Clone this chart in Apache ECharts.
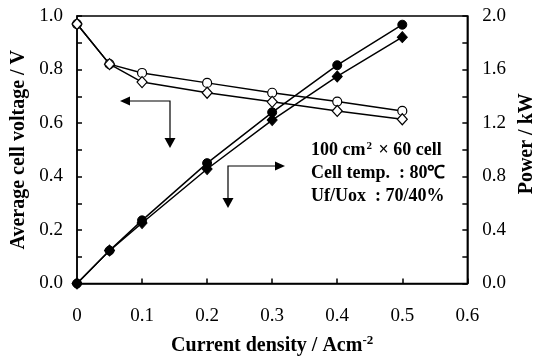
<!DOCTYPE html>
<html>
<head>
<meta charset="utf-8">
<script src="https://cdn.jsdelivr.net/npm/echarts@6/dist/echarts.min.js"></script>
<style>
  html, body { margin: 0; padding: 0; background: #fff; }
  #main { width: 545px; height: 361px; }
</style>
</head>
<body>
<div id="main"></div>
<script>
// current density, A/cm2
const currentDensity = [0, 0.05, 0.1, 0.2, 0.3, 0.4, 0.5];
// average cell voltage, V (left axis)
const voltageA = [0.97, 0.82, 0.787, 0.75, 0.713, 0.68, 0.645];
const voltageB = [0.97, 0.82, 0.753, 0.713, 0.679, 0.645, 0.614];
// power, kW (right axis)
const powerA = [0, 0.246, 0.472, 0.9, 1.28, 1.632, 1.935];
const powerB = [0, 0.246, 0.452, 0.856, 1.222, 1.548, 1.842];

const serif = 'Liberation Serif, Times New Roman, serif';
const pair = (xs, ys) => xs.map((x, i) => [x, ys[i]]);

const chart = echarts.init(document.getElementById('main'), null, { renderer: 'canvas' });

const axisLine = { show: true, lineStyle: { color: '#000', width: 1.5 } };
const tickLabel = { fontFamily: serif, fontSize: 19, color: '#000' };
const nameStyle = { fontFamily: serif, fontSize: 20, fontWeight: 'bold', color: '#000' };

const baseSeries = {
    type: 'line',
    symbolSize: 9,
    showSymbol: true,
    lineStyle: { color: '#000', width: 1.5 },
    animation: false,
    z: 3
};

const option = {
    animation: false,
    grid: {
        left: 77, right: 65, top: 16, bottom: 73,
        show: true, borderColor: '#000', borderWidth: 1.5
    },
    xAxis: {
        type: 'value',
        min: 0, max: 0.6, interval: 0.1,
        axisLine: axisLine,
        axisTick: { show: true, inside: true, length: 5, lineStyle: { color: '#000', width: 1.5 } },
        splitLine: { show: false },
        axisLabel: Object.assign({ margin: 23, formatter: v => (v === 0 ? '0' : v.toFixed(1)) }, tickLabel),
        name: 'Current density / Acm{sup|-2}',
        nameLocation: 'middle',
        nameGap: 51,
        nameTextStyle: Object.assign({
            rich: { sup: { fontFamily: serif, fontSize: 13, fontWeight: 'bold', verticalAlign: 'top', padding: [0, 0, 10, 0] } }
        }, nameStyle)
    },
    yAxis: [
        {
            type: 'value',
            min: 0, max: 1, interval: 0.2,
            axisLine: axisLine,
            axisTick: { show: true, inside: true, length: 5, lineStyle: { color: '#000', width: 1.5 } },
            minorTick: { show: true, splitNumber: 2, length: 5, lineStyle: { color: '#000', width: 1.5 } },
            splitLine: { show: false },
            axisLabel: Object.assign({ margin: 14, formatter: v => v.toFixed(1) }, tickLabel),
            name: 'Average cell voltage / V',
            nameLocation: 'middle',
            nameGap: 45,
            nameTextStyle: nameStyle
        },
        {
            type: 'value',
            position: 'right',
            min: 0, max: 2, interval: 0.4,
            axisLine: axisLine,
            axisTick: { show: true, inside: true, length: 5, lineStyle: { color: '#000', width: 1.5 } },
            minorTick: { show: true, splitNumber: 2, length: 5, lineStyle: { color: '#000', width: 1.5 } },
            splitLine: { show: false },
            axisLabel: Object.assign({ margin: 15, formatter: v => v.toFixed(1) }, tickLabel),
            name: 'Power / kW',
            nameLocation: 'middle',
            nameGap: 38,
            nameRotate: 90,
            nameTextStyle: Object.assign({ padding: [0, 0, 0, 12] }, nameStyle)
        }
    ],
    series: [
        Object.assign({}, baseSeries, {
            name: 'V (circle)', yAxisIndex: 0, data: pair(currentDensity, voltageA),
            symbol: 'circle',
            itemStyle: { color: '#fff', borderColor: '#000', borderWidth: 1.2 }
        }),
        Object.assign({}, baseSeries, {
            name: 'V (diamond)', yAxisIndex: 0, data: pair(currentDensity, voltageB),
            symbol: 'diamond', symbolSize: [10, 11],
            itemStyle: { color: '#fff', borderColor: '#000', borderWidth: 1.2 }
        }),
        Object.assign({}, baseSeries, {
            name: 'P (circle)', yAxisIndex: 1, data: pair(currentDensity, powerA),
            symbol: 'circle',
            itemStyle: { color: '#000', borderColor: '#000', borderWidth: 1 }
        }),
        Object.assign({}, baseSeries, {
            name: 'P (diamond)', yAxisIndex: 1, data: pair(currentDensity, powerB),
            symbol: 'diamond', symbolSize: [10, 11],
            itemStyle: { color: '#000', borderColor: '#000', borderWidth: 1 }
        })
    ],
    graphic: [
        // arrow pointing to the voltage axis
        { type: 'polyline', shape: { points: [[129, 101], [170, 101], [170, 139]] }, style: { stroke: '#000', lineWidth: 1.2, fill: null } },
        { type: 'polygon', shape: { points: [[120, 101], [130, 96.5], [130, 105.5]] }, style: { fill: '#000' } },
        { type: 'polygon', shape: { points: [[170, 148], [164.5, 138], [175.5, 138]] }, style: { fill: '#000' } },
        // arrow pointing to the power axis
        { type: 'polyline', shape: { points: [[276, 166], [228, 166], [228, 199]] }, style: { stroke: '#000', lineWidth: 1.2, fill: null } },
        { type: 'polygon', shape: { points: [[285, 166], [275, 161.5], [275, 170.5]] }, style: { fill: '#000' } },
        { type: 'polygon', shape: { points: [[228, 208], [222.5, 198], [233.5, 198]] }, style: { fill: '#000' } },
        // conditions
        {
            type: 'text', left: 311, top: 141,
            style: {
                text: '100 cm{sup|2} × 60 cell',
                fontFamily: serif, fontSize: 18, fontWeight: 'bold', fill: '#000',
                rich: { sup: { fontFamily: serif, fontSize: 11, fontWeight: 'bold', verticalAlign: 'top', padding: [0, 2, 8, 1] } }
            }
        },
        { type: 'text', left: 311, top: 164, style: { text: 'Cell temp.  : 80℃', fontFamily: serif, fontSize: 18, fontWeight: 'bold', fill: '#000' } },
        { type: 'text', left: 311, top: 187, style: { text: 'Uf/Uox  : 70/40%', fontFamily: serif, fontSize: 18, fontWeight: 'bold', fill: '#000' } }
    ]
};

chart.setOption(option);
</script>
</body>
</html>
